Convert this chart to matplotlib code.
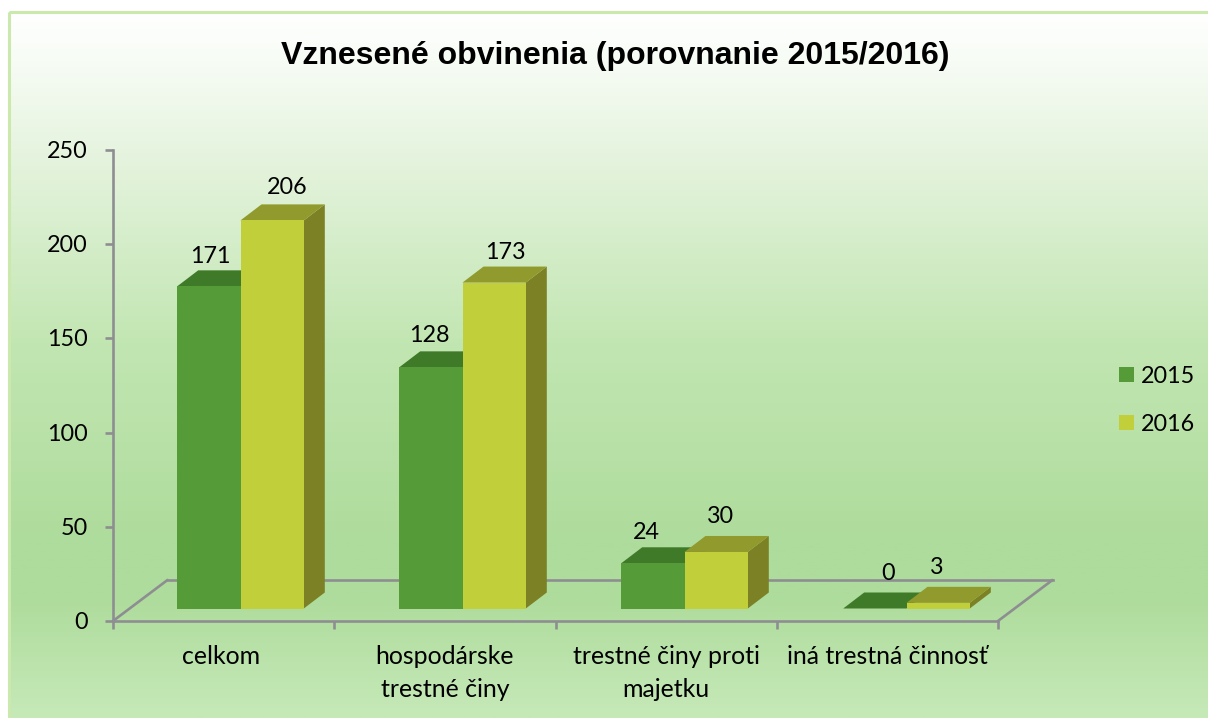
import numpy as np
import matplotlib
matplotlib.use("Agg")
import matplotlib.pyplot as plt
from matplotlib.patches import Polygon, Rectangle
from matplotlib.colors import LinearSegmentedColormap

categories = ["celkom", "hospodárske\ntrestné činy", "trestné činy proti\nmajetku", "iná trestná činnosť"]
values_2015 = [171, 128, 24, 0]
values_2016 = [206, 173, 30, 3]
series_names = ["2015", "2016"]
y_ticks = [0, 50, 100, 150, 200, 250]
title = "Vznesené obvinenia (porovnanie 2015/2016)"
# hand-placed label nudges in pixels (x, up), as in the reference
nudge_2015 = [(0, -1), (-3, 1), (-8, 0), (11, 4)]
nudge_2016 = [(13, 2), (9, -1), (2, 4), (-3, 4)]
nudge_cat = [-3, 0, 0, 0]

W, H = 1208, 718
fig = plt.figure(figsize=(W / 100, H / 100), dpi=100, facecolor="white")
FONT = "Lato"
FS = 17.9      # words
FN = 16.8      # numbers

# background panel with vertical gradient
bg = fig.add_axes([0, 0, 1, 1], zorder=0)
bg.set_xlim(0, W); bg.set_ylim(H, 0); bg.axis("off")
cmap = LinearSegmentedColormap.from_list("g", [
    (0.0, "#ffffff"), (0.07, "#f7fcf5"), (0.2, "#e6f4df"), (0.47, "#c2e6b2"),
    (0.75, "#aedc9c"), (0.83, "#aedc9c"), (1.0, "#c6e9b8")])
bg.imshow(np.linspace(0, 1, 256)[:, None], cmap=cmap, aspect="auto",
          extent=(9, W, H, 11), zorder=1)
bg.set_xlim(0, W); bg.set_ylim(H, 0)
bg.add_patch(Rectangle((9, 11.5), W + 10, H + 10, fill=False, ec="#cbe9ad", lw=2.2, zorder=2))

# plot axes: front plane
x0, x1, y0, y250 = 113, 998, 621, 150
ax = fig.add_axes([x0 / W, 1 - y0 / H, (x1 - x0) / W, (y0 - y250) / H], zorder=1)
ax.patch.set_alpha(0)
ax.set_xlim(0, 4); ax.set_ylim(0, 250)
px = 4 / (x1 - x0)          # data units in x per pixel
py = 250 / (y0 - y250)      # data units in y per pixel

GRAY = "#8e8e92"
LW = 1.9
for s in ("top", "right"):
    ax.spines[s].set_visible(False)
for s in ("left", "bottom"):
    ax.spines[s].set_color(GRAY); ax.spines[s].set_linewidth(LW)
ax.set_yticks(y_ticks)
ax.set_yticklabels([])
for v in y_ticks:
    ax.text(-25 * px, v - 1.5 * py, str(v), ha="right", va="center", fontname=FONT,
            fontsize=FN, color="black", clip_on=False)
ax.set_xticks(range(5))
ax.set_xticklabels([])
ax.tick_params(axis="both", color=GRAY, width=LW, length=6, direction="out")
for i, c in enumerate(categories):
    ax.text(i + 0.5 + nudge_cat[i] * px, -(655 - 621 - 10) * py, c, ha="center", va="top",
            fontname=FONT, fontsize=FS, linespacing=1.53, clip_on=False)

# floor
fd_x, fd_y = 54.5 * px, 41 * py
for xs in (0, 4):
    ax.plot([xs, xs + fd_x], [0, fd_y], color=GRAY, lw=LW, clip_on=False, zorder=2,
            solid_capstyle="round")
ax.plot([fd_x, 4 + fd_x], [fd_y, fd_y], color=GRAY, lw=LW, clip_on=False, zorder=2)

# 3D bars
base = 12.5 * py
dx, dy = 21 * px, 16 * py
bw = 63.3 * px
start = 64.2 * px
pitch = 222 * px
faces = {
    "2015": ("#559c39", "#3f7a28", "#3f7a28"),
    "2016": ("#c1cf3a", "#919a2c", "#7b8124"),
}
def bar3d(x, v, cols, z):
    f, t, s = cols
    top = base + v
    ax.add_patch(Polygon([(x + bw, base), (x + bw + dx, base + dy), (x + bw + dx, top + dy), (x + bw, top)],
                         fc=s, ec="none", clip_on=False, zorder=z))
    ax.add_patch(Polygon([(x, top), (x + dx, top + dy), (x + bw + dx, top + dy), (x + bw, top)],
                         fc=t, ec="none", clip_on=False, zorder=z))
    ax.add_patch(Polygon([(x, base), (x + bw, base), (x + bw, top), (x, top)],
                         fc=f, ec="none", clip_on=False, zorder=z + 0.1))

def bar_label(x, v, nudge):
    ax.text(x + bw / 2 + (2 + nudge[0]) * px, base + v + (20.5 + nudge[1]) * py, str(v),
            ha="center", va="bottom", fontname=FONT, fontsize=FN, zorder=10, clip_on=False)

for i, (a, b) in enumerate(zip(values_2015, values_2016)):
    xa = i * pitch + start
    xb = xa + bw
    bar3d(xa, a, faces["2015"], 3 + i)
    bar3d(xb, b, faces["2016"], 3 + i + 0.2)
    bar_label(xa, a, nudge_2015[i])
    bar_label(xb, b, nudge_2016[i])

# legend
for name, yy in zip(series_names, (374.5, 422.5)):
    bg.add_patch(Rectangle((1119, yy - 7.5), 15, 15, fc=faces[name][0], ec="none", zorder=3))
    bg.text(1141, yy + 2, name, va="center", ha="left", fontname=FONT, fontsize=FN, zorder=3)

bg.text(615, 56, title, ha="center", va="center", fontname="Liberation Sans",
        fontweight="bold", fontsize=23.0, zorder=3)

fig.savefig("out.png", dpi=100, facecolor="white")
